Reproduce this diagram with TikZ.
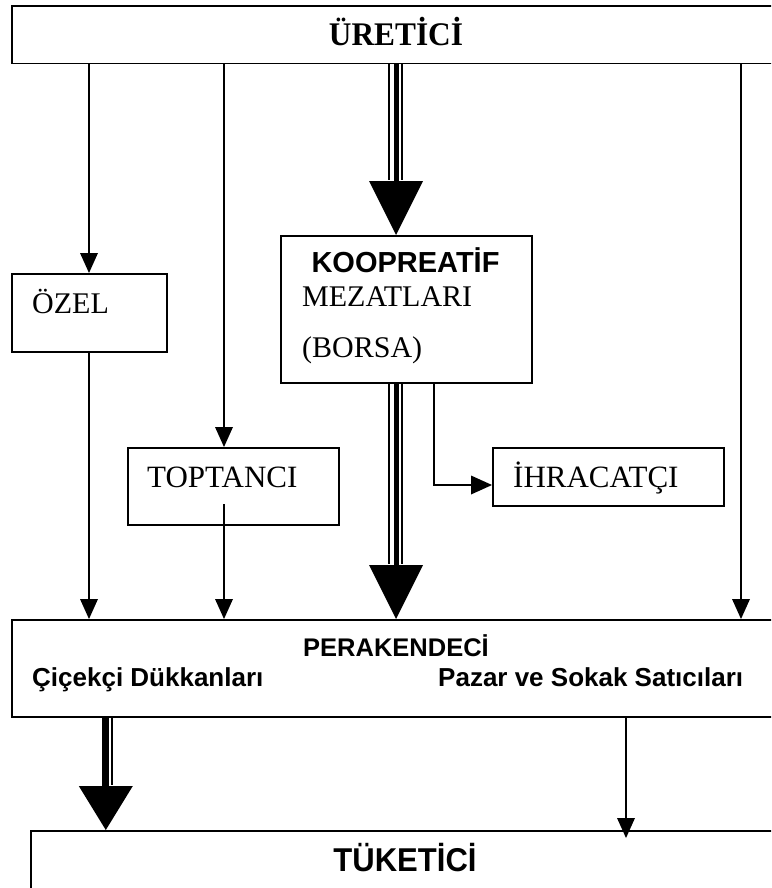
\documentclass[tikz,border=0pt]{standalone}
\usepackage{fontspec}
\setmainfont{Liberation Serif}
\newfontfamily\sansf{Liberation Sans}
\usetikzlibrary{arrows.meta}
\begin{document}
\begin{tikzpicture}[x=1pt,y=-1pt,
  box/.style={draw, line width=1.6pt, inner sep=0pt, anchor=north west},
  conn/.style={line width=1.4pt},
  small/.style={conn, -{Triangle[width=18pt,length=20pt,line width=0pt]}},
  txt/.style={inner sep=0pt, anchor=base west},
  ctxt/.style={inner sep=0pt, anchor=base},
  serif/.style={font=\fontsize{31}{36}\selectfont},
  sansbig/.style={font=\sansf\bfseries\fontsize{26}{30}\selectfont}]
\useasboundingbox (0,0) rectangle (771,888);
\clip (0,0) rectangle (771,888);
% boxes
\node[box, minimum width=800pt, minimum height=57.7pt] (ure) at (11,5) {};
\node[box, minimum width=155pt, minimum height=78pt] (ozel) at (11,273) {};
\node[box, minimum width=251pt, minimum height=147pt] (koop) at (280,235) {};
\node[box, minimum width=211pt, minimum height=77pt] (topt) at (127,447) {};
\node[box, minimum width=231pt, minimum height=58pt] (ihr) at (492,447) {};
\node[box, minimum width=800pt, minimum height=97pt] (per) at (11,619) {};
\node[box, minimum width=800pt, minimum height=80pt] (tuk) at (30,830) {};
% texts
\node[ctxt, font=\bfseries\fontsize{33}{38}\selectfont] (tu) at (396,46) {\scalebox{0.95}[1]{ÜRETİCİ}};
\node[ctxt, font=\sansf\bfseries\fontsize{29}{34}\selectfont] (tk) at (405.5,272.5) {KOOPREATİF};
\node[txt, font=\fontsize{30}{36}\selectfont] (tm) at (302,306.5) {MEZATLARI};
\node[txt, font=\fontsize{30}{36}\selectfont] (tb) at (302,357) {(BORSA)};
\node[txt, font=\fontsize{30}{36}\selectfont] (to) at (32,313) {ÖZEL};
\node[txt, serif] (tt) at (147,487) {TOPTANCI};
\node[txt, serif] (ti) at (513,487) {İHRACATÇI};
\node[ctxt, font=\sansf\bfseries\fontsize{25.5}{30}\selectfont] (tp) at (396,656) {PERAKENDECİ};
\node[txt, sansbig] (tc) at (32,686) {Çiçekçi Dükkanları};
\node[txt, sansbig] (ts) at (438,686) {Pazar ve Sokak Satıcıları};
\node[ctxt, font=\sansf\bfseries\fontsize{33}{38}\selectfont] (tq) at (405,871) {\scalebox{0.94}[1]{TÜKETİCİ}};
% coordinates
\coordinate (xo) at (89,0);
\coordinate (xt) at (224,0);
\coordinate (xm) at (396,0);
\coordinate (xr) at (741,0);
\coordinate (l1) at (389.2,180);
\coordinate (r1) at (402,180);
\coordinate (l2) at (389.2,564);
\coordinate (r2) at (402,564);
\coordinate (tstart) at (224,504);
\coordinate (ia) at (434,485);
\coordinate (xb) at (105.8,0);
\coordinate (tb2) at (112,785);
\coordinate (re) at (626,838);
% connectors from ÜRETİCİ
\draw[small] (ure.south -| xo) -- (ozel.north -| xo);
\draw[small] (ure.south -| xt) -- (topt.north -| xt);
\draw[small] (ure.south -| xr) -- (per.north -| xr);
\draw[line width=5pt, -{Triangle[width=54pt,length=54pt,line width=0pt]}] (ure.south -| xm) -- (koop.north -| xm);
\draw[line width=2.5pt] (ure.south -| l1) -- (l1);
\draw[line width=2.5pt] (ure.south -| r1) -- (r1);
% to PERAKENDECİ
\draw[small] (ozel.south -| xo) -- (per.north -| xo);
\draw[small] (tstart) -- (per.north -| tstart);
\draw[line width=5pt, -{Triangle[width=54pt,length=54pt,line width=0pt]}] (koop.south -| xm) -- (per.north -| xm);
\draw[line width=2.5pt] (koop.south -| l2) -- (l2);
\draw[line width=2.5pt] (koop.south -| r2) -- (r2);
% to İHRACATÇI
\draw[conn, -{Triangle[width=19pt,length=21pt,line width=0pt]}] (koop.south -| ia) |- (ihr.west |- ia);
% to TÜKETİCİ
\draw[line width=7pt, -{Triangle[width=54pt,length=44pt,line width=0pt]}] (per.south -| xb) -- (tuk.north -| xb);
\draw[line width=2.5pt] (per.south -| tb2) -- (tb2);
\draw[small] (per.south -| re) -- (re);
\end{tikzpicture}
\end{document}
